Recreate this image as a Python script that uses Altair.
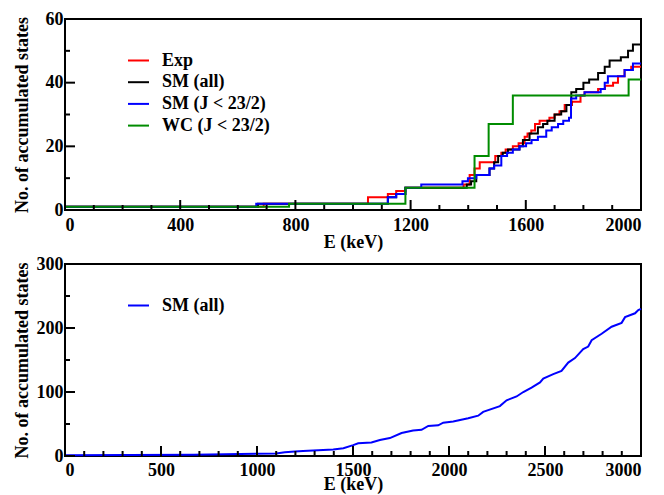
import altair as alt
import pandas as pd

FONT = "Liberation Serif"

# ---------------- data ----------------
series_names = ["Exp", "SM (all)", "SM (J < 23/2)", "WC (J < 23/2)"]
series_colors = ["#ff0000", "#000000", "#0000ff", "#008c00"]

exp_E = [0, 690, 1052, 1121, 1150, 1182, 1384, 1405, 1422, 1440, 1494, 1515, 1530, 1555, 1575,
         1596, 1606, 1619, 1632, 1648, 1682, 1700, 1717, 1735, 1760, 1790, 1804, 1851, 1875,
         1903, 1920, 1943, 1966, 2000]
exp_N = [1, 2, 4, 5, 6, 7, 8, 11, 13, 15, 17, 18, 19, 20, 21,
         23, 24, 25, 27, 28, 29, 30, 31, 33, 34, 36, 37, 38, 39,
         40, 42, 44, 45, 45]

small_E = [0, 670, 1121, 1150, 1182, 1395, 1410, 1428, 1474, 1490, 1504, 1520, 1538, 1578, 1590,
           1613, 1642, 1660, 1675, 1700, 1723, 1741, 1758, 1775, 1800, 1820, 1851, 1874, 1891,
           1930, 1955, 1972, 2000]
small_N = [1, 2, 4, 5, 7, 8, 9, 11, 13, 15, 17, 18, 19, 20, 22,
           24, 26, 27, 28, 30, 31, 33, 37, 38, 40, 41, 43, 45, 47,
           48, 50, 52, 52]

smj_E = [0, 664, 1121, 1150, 1182, 1237, 1380, 1399, 1428, 1474, 1490, 1515, 1535, 1555, 1578,
         1601, 1620, 1642, 1671, 1690, 1712, 1730, 1750, 1757, 1775, 1804, 1860, 1874, 1885,
         1943, 1972, 2000]
smj_N = [1, 2, 4, 5, 7, 8, 9, 10, 11, 13, 14, 17, 18, 19, 20,
         21, 22, 23, 25, 26, 27, 28, 29, 35, 36, 37, 38, 40, 42,
         44, 46, 46]

wc_E = [0, 778, 1182, 1422, 1471, 1555, 1957, 2000]
wc_N = [1, 2, 7, 17, 27, 36, 41, 41]

bot_name = "SM (all)"
bot_color = "#0000ff"
bot_E = [0, 670, 1100, 1145, 1197, 1240, 1397, 1450, 1501, 1527, 1596, 1640, 1692, 1753, 1813,
         1857, 1892, 1944, 1970, 2022, 2100, 2152, 2178, 2265, 2300, 2352, 2387, 2430, 2474,
         2491, 2543, 2586, 2621, 2656, 2699, 2725, 2743, 2795, 2847, 2899, 2917, 2969, 2986, 3000]
bot_N = [1, 2, 4, 6, 7, 8, 10, 12, 17, 20, 21, 25, 28, 36, 40,
         41, 47, 48, 52, 54, 59, 63, 69, 78, 87, 93, 100, 107, 115,
         121, 128, 133, 146, 153, 167, 171, 181, 191, 202, 208, 217, 223, 228, 230]

top_x_labels = [0, 400, 800, 1200, 1600, 2000]
top_x_minor = [v for v in range(0, 2001, 100) if v % 400]
top_y_labels = [0, 20, 40, 60]
top_y_minor = [10, 30, 50]

bot_x_labels = [0, 500, 1000, 1500, 2000, 2500, 3000]
bot_x_minor = [v for v in range(0, 3001, 100) if v % 500]
bot_y_labels = [0, 100, 200, 300]
bot_y_minor = [50, 150, 250]

# ---------------- build ----------------
W, H1, H2 = 576, 191, 192
XTITLE = "E (keV)"
YTITLE = "No. of accumulated states"

top_df = pd.concat([
    pd.DataFrame({"E": e, "N": n, "series": s})
    for s, e, n in zip(series_names, [exp_E, small_E, smj_E, wc_E], [exp_N, small_N, smj_N, wc_N])
], ignore_index=True)
bot_df = pd.DataFrame({"E": bot_E, "N": bot_N, "series": bot_name})


def legend():
    return alt.Legend(title=None, orient="none", legendX=62, legendY=30, symbolType="stroke",
                      symbolSize=441, symbolStrokeWidth=2, labelFont=FONT, labelFontSize=18,
                      labelFontWeight="bold", labelColor="black", labelOffset=12, rowPadding=0.7,
                      padding=0, labelLimit=400)


def panel(df, names, colors, xdom, ydom, H, xlab, ylab, xmin, ymin, ytitlepad, xlabpad, xtitlepad, interp):
    xs = alt.Scale(domain=xdom, nice=False, zero=False)
    ys = alt.Scale(domain=ydom, nice=False)

    def xenc(field):
        return alt.X(field, scale=xs, title=XTITLE,
                     axis=alt.Axis(values=xlab, format="d", labelPadding=xlabpad, titlePadding=xtitlepad))

    def yenc(field):
        return alt.Y(field, scale=ys, title=YTITLE,
                     axis=alt.Axis(values=ylab, format="d", labelPadding=2, titlePadding=ytitlepad))

    layers = []
    for i, s in enumerate(names):
        layers.append(alt.Chart(df).transform_filter(alt.datum.series == s).mark_line(
            interpolate=interp, strokeWidth=2).encode(
            x=xenc("E:Q"), y=yenc("N:Q"),
            color=alt.Color("series:N", scale=alt.Scale(domain=names, range=colors),
                            legend=legend() if i == 0 else None),
        ))
    for vals, ln in [(xlab, 10), (xmin, 5)]:
        layers.append(alt.Chart(pd.DataFrame({"E": vals})).mark_rule(color="black", strokeWidth=2).encode(
            x=xenc("E:Q"), y=alt.value(H), y2=alt.value(H - ln)))
    for vals, ln in [(ylab, 10), (ymin, 5)]:
        layers.append(alt.Chart(pd.DataFrame({"N": vals})).mark_rule(color="black", strokeWidth=2).encode(
            y=yenc("N:Q"), x=alt.value(0), x2=alt.value(ln)))
    return alt.layer(*layers).properties(width=W, height=H)


top = panel(top_df, series_names, series_colors, [0, 2000], [0, 60], H1,
            top_x_labels, top_y_labels, top_x_minor, top_y_minor, 14, 6, -1, "step-after")
bottom = panel(bot_df, [bot_name], [bot_color], [0, 3000], [0, 300], H2,
               bot_x_labels, bot_y_labels, bot_x_minor, bot_y_minor, 5, 5, -4, "linear")

chart = alt.vconcat(top, bottom, spacing=2).resolve_scale(color="independent").resolve_legend(
    color="independent").properties(
    padding={"top": 1, "left": 4, "right": 2, "bottom": 0}
).configure_view(stroke="black", strokeWidth=2).configure_axis(
    grid=False, ticks=False, domain=False, labelFont=FONT, labelFontSize=18, labelFontWeight="bold",
    labelColor="black", titleFont=FONT, titleFontSize=18, titleFontWeight="bold", titleColor="black"
)

chart.save("out.html", embed_options={"renderer": "svg", "actions": False})
